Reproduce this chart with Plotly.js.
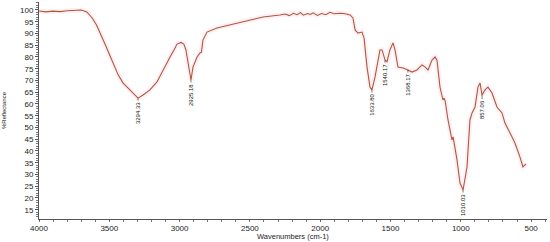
<!DOCTYPE html>
<html><head><meta charset="utf-8">
<script src="https://cdn.plot.ly/plotly-3.0.1.min.js"></script>
<style>html,body{margin:0;padding:0;background:#fff}#c{width:550px;height:242px}</style>
</head><body><div id="c"></div>
<script>
const wavenumbers = [4000,3950,3900,3850,3800,3750,3700,3660,3620,3590,3566,3523,3495,3474,3438,3403,3370,3331,3296,3260,3211,3161,3118,3090,3068,3040,3018,2990,2970,2955,2940,2930,2919,2905,2876,2855,2845,2834,2805,2734,2642,2521,2407,2286,2250,2220,2190,2165,2140,2120,2090,2070,2051,2020,1990,1960,1930,1900,1870,1859,1830,1810,1788,1767,1752,1731,1703,1688,1667,1646,1632,1610,1575,1560,1539,1525,1504,1482,1468,1447,1411,1376,1347,1312,1276,1255,1233,1205,1183,1169,1148,1127,1120,1112,1091,1063,1055,1027,1006,984,956,935,920,899,878,863,849,828,807,778,743,707,686,650,615,579,558,545,536];
const reflectance = [99.6,99.2,99.5,99.3,99.7,99.9,100.0,99.2,96.5,93.5,90.5,84.5,80.5,77.5,72.5,69.0,67.0,64.7,62.5,63.8,66.0,69.4,74.5,77.4,80.0,83.0,85.5,86.2,85.5,83.0,77.4,73.0,70.2,75.7,80.0,81.7,82.0,87.2,90.6,92.3,93.6,95.3,97.0,97.9,98.3,97.6,98.6,98.0,98.9,97.8,98.5,98.1,98.8,97.7,98.5,98.0,99.0,98.4,98.7,98.6,98.5,98.2,97.9,96.6,91.5,90.2,90.6,88.0,75.7,67.2,66.0,71.5,83.0,83.0,78.7,78.0,83.0,86.0,83.0,75.7,75.3,74.5,73.6,74.5,76.6,75.8,74.5,78.7,80.0,78.5,67.2,61.7,62.5,61.5,53.2,44.7,46.0,36.2,26.4,23.4,33.2,53.2,56.2,58.7,67.2,68.9,63.8,66.0,67.2,64.7,58.7,56.2,51.9,47.7,43.4,37.4,33.2,34.0,34.5];
const peakX = [3296,2919,1632,1539,1376,984,849];
const peakY = [62.5,70.2,66.0,78.7,74.5,23.4,63.8];
const peakLabels = ["3294.33","2925.18","1633.80","1540.17","1368.17","1010.03","857.06"];
const xTicks = [4000,3500,3000,2500,2000,1500,1000,500];

const traces = [
  {x: wavenumbers, y: reflectance, type:'scatter', mode:'lines', hoverinfo:'skip',
   line:{color:'rgba(250,195,215,0.25)', width:5}},
  {x: wavenumbers, y: reflectance, type:'scatter', mode:'lines',
   line:{color:'#b0573a', width:1.1}}
];
const annotations = peakX.map((x,i)=>({
  x:x, y:peakY[i], xref:'x', yref:'y', text:peakLabels[i], textangle:-90,
  showarrow:true, arrowhead:0, arrowwidth:0.6, arrowcolor:'#222', ax:0, ay:15, standoff:0,
  font:{family:'Arial, Liberation Sans, sans-serif', size:6, color:'#111'}
}));
annotations.push({xref:'paper', yref:'paper', x:0.5, y:-0.0829, yanchor:'middle', xanchor:'center',
  showarrow:false, borderpad:0, text:'Wavenumbers (cm-1)', font:{family:'Arial, Liberation Sans, sans-serif', size:7.5, color:'#222'}});
const layout = {
  width:550, height:242, margin:{l:39, r:3, t:2, b:23},
  paper_bgcolor:'#fff', plot_bgcolor:'#fff', showlegend:false,
  font:{family:'Arial, Liberation Sans, sans-serif', size:8, color:'#222'},
  xaxis:{range:[4000,387], tickvals:xTicks, ticktext:xTicks.map(String), showgrid:false, zeroline:false,
    showline:true, linecolor:'#555', linewidth:1, ticks:'outside', ticklen:1, tickcolor:'#555',
    minor:{dtick:100, ticks:'outside', ticklen:2, tickcolor:'#777'},
    tickfont:{size:8, color:'#222'}},
  yaxis:{range:[11.06,103.4], tick0:15, dtick:5, showgrid:false, zeroline:false,
    showline:true, linecolor:'#555', linewidth:1, ticks:'outside', ticklen:3, tickcolor:'#555',
    minor:{dtick:1, ticks:'outside', ticklen:2, tickcolor:'#777'},
    tickfont:{size:8, color:'#222'},
    title:{text:'%Reflectance', font:{size:6, color:'#222'}, standoff:12}},
  annotations: annotations
};
Plotly.newPlot('c', traces, layout, {staticPlot:true, displayModeBar:false});
</script></body></html>
